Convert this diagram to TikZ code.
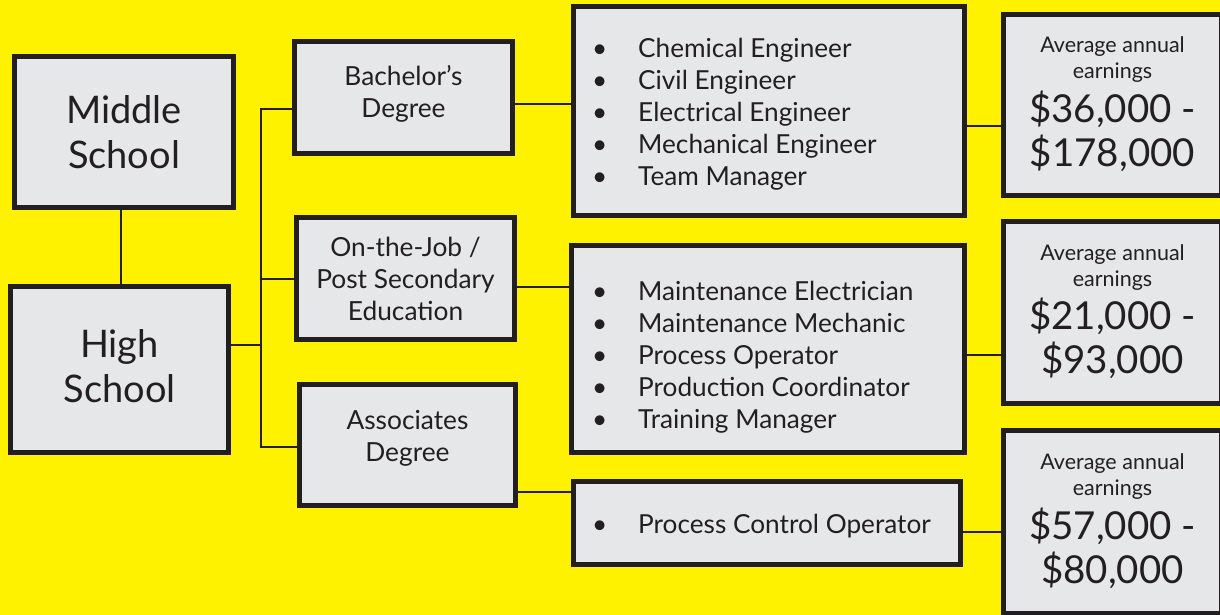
\documentclass[tikz,border=0pt]{standalone}
\usepackage{fontspec}
\setmainfont{Lato}
\usepackage{xcolor}
\usepackage{tikz}
\usetikzlibrary{positioning}

\definecolor{signyellow}{HTML}{FFF200}
\definecolor{boxgray}{HTML}{E6E7E8}
\definecolor{inkblack}{HTML}{231F20}

\tikzset{
  box/.style={draw=inkblack, fill=boxgray, line width=5pt, inner sep=0pt, text=inkblack, align=center},
  link/.style={draw=inkblack, line width=2.5pt},
  bigtext/.style={font=\fontsize{38}{45}\selectfont},
  midtext/.style={font=\fontsize{26.3}{32}\selectfont},
  listtext/.style={inner sep=0pt, text=inkblack, align=left, font=\fontsize{26.2}{32}\selectfont},
  earnhead/.style={inner sep=0pt, text=inkblack, align=center, font=\fontsize{21.5}{26}\selectfont},
  earnsum/.style={inner sep=0pt, text=inkblack, align=center, font=\fontsize{38.5}{44}\selectfont},
}
\newcommand{\bul}[1]{\makebox[46pt][l]{\textbullet}#1}

\begin{document}
\begin{tikzpicture}[x=1pt,y=-1pt]
      \fill[signyellow] (0,0) rectangle (1220,615);
      \useasboundingbox (0,0) rectangle (1220,615);
      % school boxes
      \node[box, bigtext, minimum width=219pt, minimum height=151pt] (mid) at (124,132) {Middle\\School};
      \node[box, bigtext, minimum width=218pt, minimum height=166pt, text depth=6pt] (high) at (119.5,369.5) {High\\School};
      % education boxes
      \node[box, midtext, minimum width=218pt, minimum height=112pt, text depth=12pt] (bach) at (403.5,97.5) {Bachelor’s\\Degree};
      \node[box, midtext, minimum width=218pt, minimum height=122pt] (job) at (405.5,278.5) {On-the-Job /\\Post Secondary\\Education};
      \node[box, midtext, minimum width=216pt, minimum height=121pt, text depth=18pt] (assoc) at (407.5,445) {Associates\\Degree};
      % job lists
      \node[box, minimum width=391pt, minimum height=209pt] (listA) at (769,111) {};
      \node[box, minimum width=393pt, minimum height=207pt] (listB) at (768,349) {};
      \node[box, minimum width=387pt, minimum height=83pt] (listC) at (767,523) {};
      \node[listtext, right=21pt of listA.west, yshift=-3pt] (itemsA) {\bul{Chemical Engineer}\\\bul{Civil Engineer}\\\bul{Electrical Engineer}\\\bul{Mechanical Engineer}\\\bul{Team Manager}};
      \node[listtext, right=23pt of listB.west, yshift=-8pt] (itemsB) {\bul{Maintenance Electrician}\\\bul{Maintenance Mechanic}\\\bul{Process Operator}\\\bul{Production Coordinator}\\\bul{Training Manager}};
      \node[listtext, right=21pt of listC.west, yshift=-3pt] (itemsC) {\bul{Process Control Operator}};
      % earnings
      \node[box, minimum width=218pt, minimum height=181pt] (earnA) at (1112.5,105) {};
      \node[box, minimum width=218pt, minimum height=182pt] (earnB) at (1112.5,312.5) {};
      \node[box, minimum width=218pt, minimum height=183pt] (earnC) at (1112.5,522) {};
      \node[earnhead] (headA) at ([yshift=45pt]earnA.center) {Average annual\\earnings};
      \node[earnsum] (sumA) at ([yshift=-26pt]earnA.center) {\$36,000 -\\\$178,000};
      \node[earnhead] (headB) at ([yshift=45pt]earnB.center) {Average annual\\earnings};
      \node[earnsum] (sumB) at ([yshift=-26pt]earnB.center) {\$21,000 -\\\$93,000};
      \node[earnhead] (headC) at ([yshift=45pt]earnC.center) {Average annual\\earnings};
      \node[earnsum] (sumC) at ([yshift=-26pt]earnC.center) {\$57,000 -\\\$80,000};
      % joints
      \coordinate (mh) at (121,247);
      \coordinate (busT) at (261,109);
      \coordinate (busJ) at (261,279);
      \coordinate (busH) at (261,345);
      \coordinate (busB) at (261,447);
      \coordinate (jA) at (540,104);
      \coordinate (jB) at (540,287);
      \coordinate (jC) at (545,492);
      \coordinate (eA) at (985,126);
      \coordinate (eB) at (985,355);
      \coordinate (eC) at (985,532);
      % connectors
      \draw[link] (mid.south -| mh) -- (high.north -| mh);
      \draw[link] (high.east |- busH) -- (busH);
      \draw[link] (bach.west |- busT) -- (busT) -- (busB) -- (assoc.west |- busB);
      \draw[link] (busJ) -- (job.west |- busJ);
      \draw[link] (bach.east |- jA) -- (listA.west |- jA);
      \draw[link] (job.east |- jB) -- (listB.west |- jB);
      \draw[link] (assoc.east |- jC) -- (listC.west |- jC);
      \draw[link] (listA.east |- eA) -- (earnA.west |- eA);
      \draw[link] (listB.east |- eB) -- (earnB.west |- eB);
      \draw[link] (listC.east |- eC) -- (earnC.west |- eC);
    \end{tikzpicture}
\end{document}
